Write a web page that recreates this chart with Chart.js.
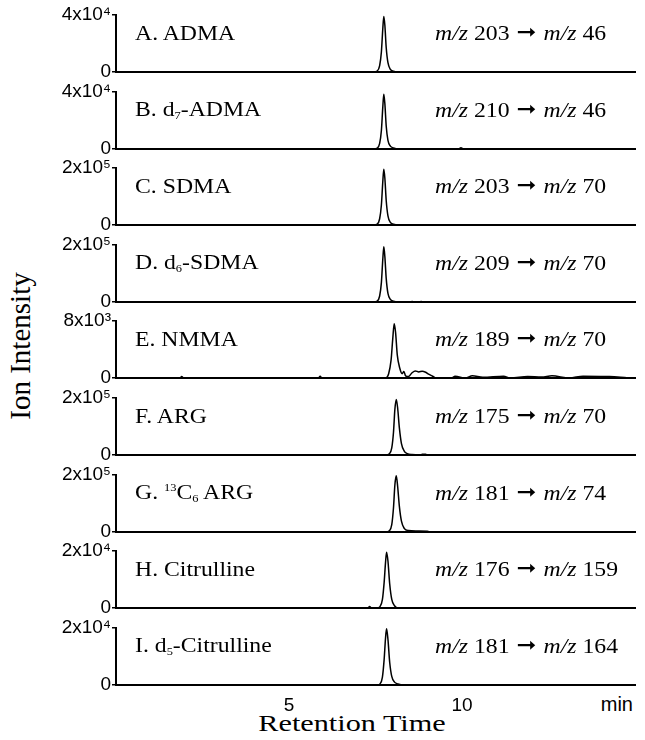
<!DOCTYPE html>
<html>
<head>
<meta charset="utf-8">
<script src="https://cdn.jsdelivr.net/npm/chart.js@4.4.0/dist/chart.umd.min.js"></script>
<style>
body { margin: 0; background: #fff; width: 645px; height: 740px; position: relative; overflow: hidden; font-family: 'Liberation Serif', 'Times New Roman', serif; color: #000; }
.panel { position: absolute; left: 0; width: 645px; }
.lbl { position: absolute; font-size: 21px; white-space: nowrap; line-height: 1; transform-origin: left center; transform: translateY(-50%) scaleX(1.13); }
.lbl sub, .lbl sup { font-size: 11px; }
.lbl sub { vertical-align: -3px; }
.lbl sup { vertical-align: 8px; }
.lbl i { font-style: italic; }
.arrow { font-family: 'DejaVu Sans', sans-serif; font-size: 21px; position: relative; top: -1px; margin: 0 1px; }
#ytitle { position: absolute; left: 20px; top: 346px; font-size: 29px; line-height: 1; white-space: nowrap; transform: translate(-50%, -50%) rotate(-90deg); }
#xtitle { position: absolute; left: 352px; top: 723px; font-size: 24px; line-height: 1; white-space: nowrap; transform: translate(-50%, -50%) scaleX(1.26); }
#unit { position: absolute; right: 12px; top: 704px; font-family: 'Liberation Sans', Arial, sans-serif; font-size: 20px; line-height: 1; transform: translateY(-50%); }
</style>
</head>
<body>
<div id="ytitle">Ion Intensity</div>
<div id="xtitle">Retention Time</div>
<div id="unit">min</div>
<script>
// retention time (min) and ion intensity for each trace
const rtA = [0, 7.45, 7.55, 7.62, 7.67, 7.71, 7.74, 7.77, 7.81, 7.86, 7.93, 8.02, 8.12, 15];
const ionA = [0, 0, 700, 4500, 14000, 30000, 39000, 33000, 17000, 6500, 1800, 500, 0, 0];

const rtB = [0, 7.45, 7.55, 7.62, 7.67, 7.71, 7.74, 7.77, 7.81, 7.86, 7.93, 8.02, 8.15, 9.9, 9.97, 10.04, 15];
const ionB = [0, 0, 600, 4000, 13000, 29000, 38500, 32000, 16000, 6000, 2000, 800, 0, 0, 900, 0, 0];

const rtC = [0, 7.45, 7.55, 7.62, 7.67, 7.71, 7.74, 7.77, 7.81, 7.86, 7.93, 8.02, 8.15, 15];
const ionC = [0, 0, 3000, 22000, 70000, 150000, 196000, 165000, 85000, 32000, 9000, 3000, 0, 0];

const rtD = [0, 7.45, 7.55, 7.62, 7.67, 7.71, 7.74, 7.77, 7.81, 7.86, 7.93, 8.02, 8.15, 8.5, 8.56, 8.62, 8.76, 8.82, 8.88, 15];
const ionD = [0, 0, 3000, 21000, 68000, 148000, 194000, 160000, 82000, 30000, 9000, 2500, 0, 0, 1800, 0, 0, 2000, 0, 0];

const rtE = [0, 1.85, 1.9, 1.95, 5.85, 5.9, 5.95, 7.8, 7.88, 7.95, 8.0, 8.04, 8.08, 8.13, 8.2, 8.27, 8.32, 8.37, 8.45, 8.55, 8.65, 8.75, 8.85, 8.95, 9.05, 9.15, 9.25,
  9.7, 9.8, 10.1, 10.3, 10.6, 11.2, 11.4, 11.9, 12.3, 12.6, 13.1, 13.5, 14.2, 14.5, 14.8, 15];
const ionE = [0, 0, 200, 0, 0, 250, 0, 0, 600, 2500, 5600, 7600, 6400, 3200, 1400, 600, 900, 300, 200, 700, 1000, 850, 950, 800, 500, 250, 0,
  0, 250, 0, 300, 100, 250, 0, 200, 150, 300, 0, 250, 200, 150, 0];

const rtF = [0, 7.8, 7.9, 7.97, 8.02, 8.06, 8.1, 8.14, 8.19, 8.25, 8.33, 8.42, 8.55, 8.8, 8.85, 8.95, 9.0, 15];
const ionF = [0, 0, 4000, 25000, 80000, 160000, 195000, 165000, 95000, 40000, 14000, 5000, 1500, 0, 2500, 2500, 0, 0];

const rtG = [0, 7.8, 7.9, 7.97, 8.02, 8.06, 8.1, 8.14, 8.19, 8.25, 8.33, 8.45, 8.7, 9.0, 9.1, 15];
const ionG = [0, 0, 4000, 26000, 85000, 165000, 197000, 160000, 90000, 38000, 13000, 5000, 3500, 2500, 0, 0];

const rtH = [0, 7.28, 7.33, 7.38, 7.55, 7.63, 7.7, 7.75, 7.79, 7.82, 7.86, 7.91, 7.97, 8.05, 8.15, 15];
const ionH = [0, 0, 500, 0, 0, 500, 3000, 9000, 16000, 19600, 16500, 8500, 3000, 800, 0, 0];

const rtI = [0, 7.55, 7.63, 7.7, 7.75, 7.79, 7.82, 7.86, 7.91, 7.97, 8.05, 8.15, 8.3, 15];
const ionI = [0, 0, 400, 2800, 9000, 16500, 19700, 16000, 8000, 3000, 1000, 400, 0, 0];

const compounds = ['A. ADMA', 'B. d<sub>7</sub>-ADMA', 'C. SDMA', 'D. d<sub>6</sub>-SDMA', 'E. NMMA', 'F. ARG',
  'G. <sup>13</sup>C<sub>6</sub> ARG', 'H. Citrulline', 'I. d<sub>5</sub>-Citrulline'];
const precursors = [203, 210, 203, 209, 189, 175, 181, 176, 181];
const products = [46, 46, 70, 70, 70, 70, 74, 159, 164];
const yMax = [4e4, 4e4, 2e5, 2e5, 8e3, 2e5, 2e5, 2e4, 2e4];
const yTopLabels = ['4x10⁴', '4x10⁴', '2x10⁵', '2x10⁵', '8x10³', '2x10⁵', '2x10⁵', '2x10⁴', '2x10⁴'];
const xTicks = [5, 10];

const rts = [rtA, rtB, rtC, rtD, rtE, rtF, rtG, rtH, rtI];
const ions = [ionA, ionB, ionC, ionD, ionE, ionF, ionG, ionH, ionI];

const sansFont = { family: "'Liberation Sans', Arial, sans-serif", size: 19 };

rts.forEach((rt, i) => {
    const last = i === rts.length - 1;
    const baseline = 72 + 76.6 * i;
    const height = last ? 102 : 84;

    const div = document.createElement('div');
    div.className = 'panel';
    div.style.top = (baseline - 70) + 'px';
    div.style.height = height + 'px';
    const canvas = document.createElement('canvas');
    canvas.width = 645;
    canvas.height = height;
    div.appendChild(canvas);
    document.body.appendChild(div);

    new Chart(canvas, {
        type: 'line',
        data: {
            datasets: [{
                data: rt.map((t, k) => ({ x: t, y: ions[i][k] })),
                borderColor: '#000',
                borderWidth: 1.5,
                pointRadius: 0,
                cubicInterpolationMode: 'monotone',
                fill: false
            }]
        },
        options: {
            responsive: false,
            animation: false,
            layout: { padding: { top: 13, bottom: last ? 6 : 14, left: 0, right: 10 } },
            plugins: { legend: { display: false }, tooltip: { enabled: false } },
            scales: {
                x: {
                    type: 'linear',
                    min: 0,
                    max: 15,
                    grid: { display: false },
                    border: { width: 2, color: '#000' },
                    ticks: { display: last, font: sansFont, color: '#000', maxRotation: 0, padding: 1 },
                    afterBuildTicks: s => { s.ticks = last ? xTicks.map(v => ({ value: v })) : []; },
                    afterFit: s => { s.height = last ? 26 : 0; }
                },
                y: {
                    min: 0,
                    max: yMax[i],
                    grid: { drawOnChartArea: false, drawTicks: true, tickLength: 4, color: '#000', lineWidth: 1.5 },
                    border: { width: 2, color: '#000' },
                    ticks: {
                        font: sansFont,
                        color: '#000',
                        padding: 1,
                        callback: v => v === 0 ? '0' : yTopLabels[i]
                    },
                    afterBuildTicks: s => { s.ticks = [{ value: 0 }, { value: yMax[i] }]; },
                    afterFit: s => { s.width = 116; }
                }
            }
        }
    });

    const left = document.createElement('div');
    left.className = 'lbl';
    left.style.left = '135px';
    left.style.top = (baseline - 39) + 'px';
    left.innerHTML = compounds[i];
    document.body.appendChild(left);

    const right = document.createElement('div');
    right.className = 'lbl';
    right.style.left = '435px';
    right.style.top = (baseline - 39) + 'px';
    right.innerHTML = '<i>m/z</i> ' + precursors[i] + ' <span class="arrow">&#x279E;</span> <i>m/z</i> ' + products[i];
    document.body.appendChild(right);
});
</script>
</body>
</html>
